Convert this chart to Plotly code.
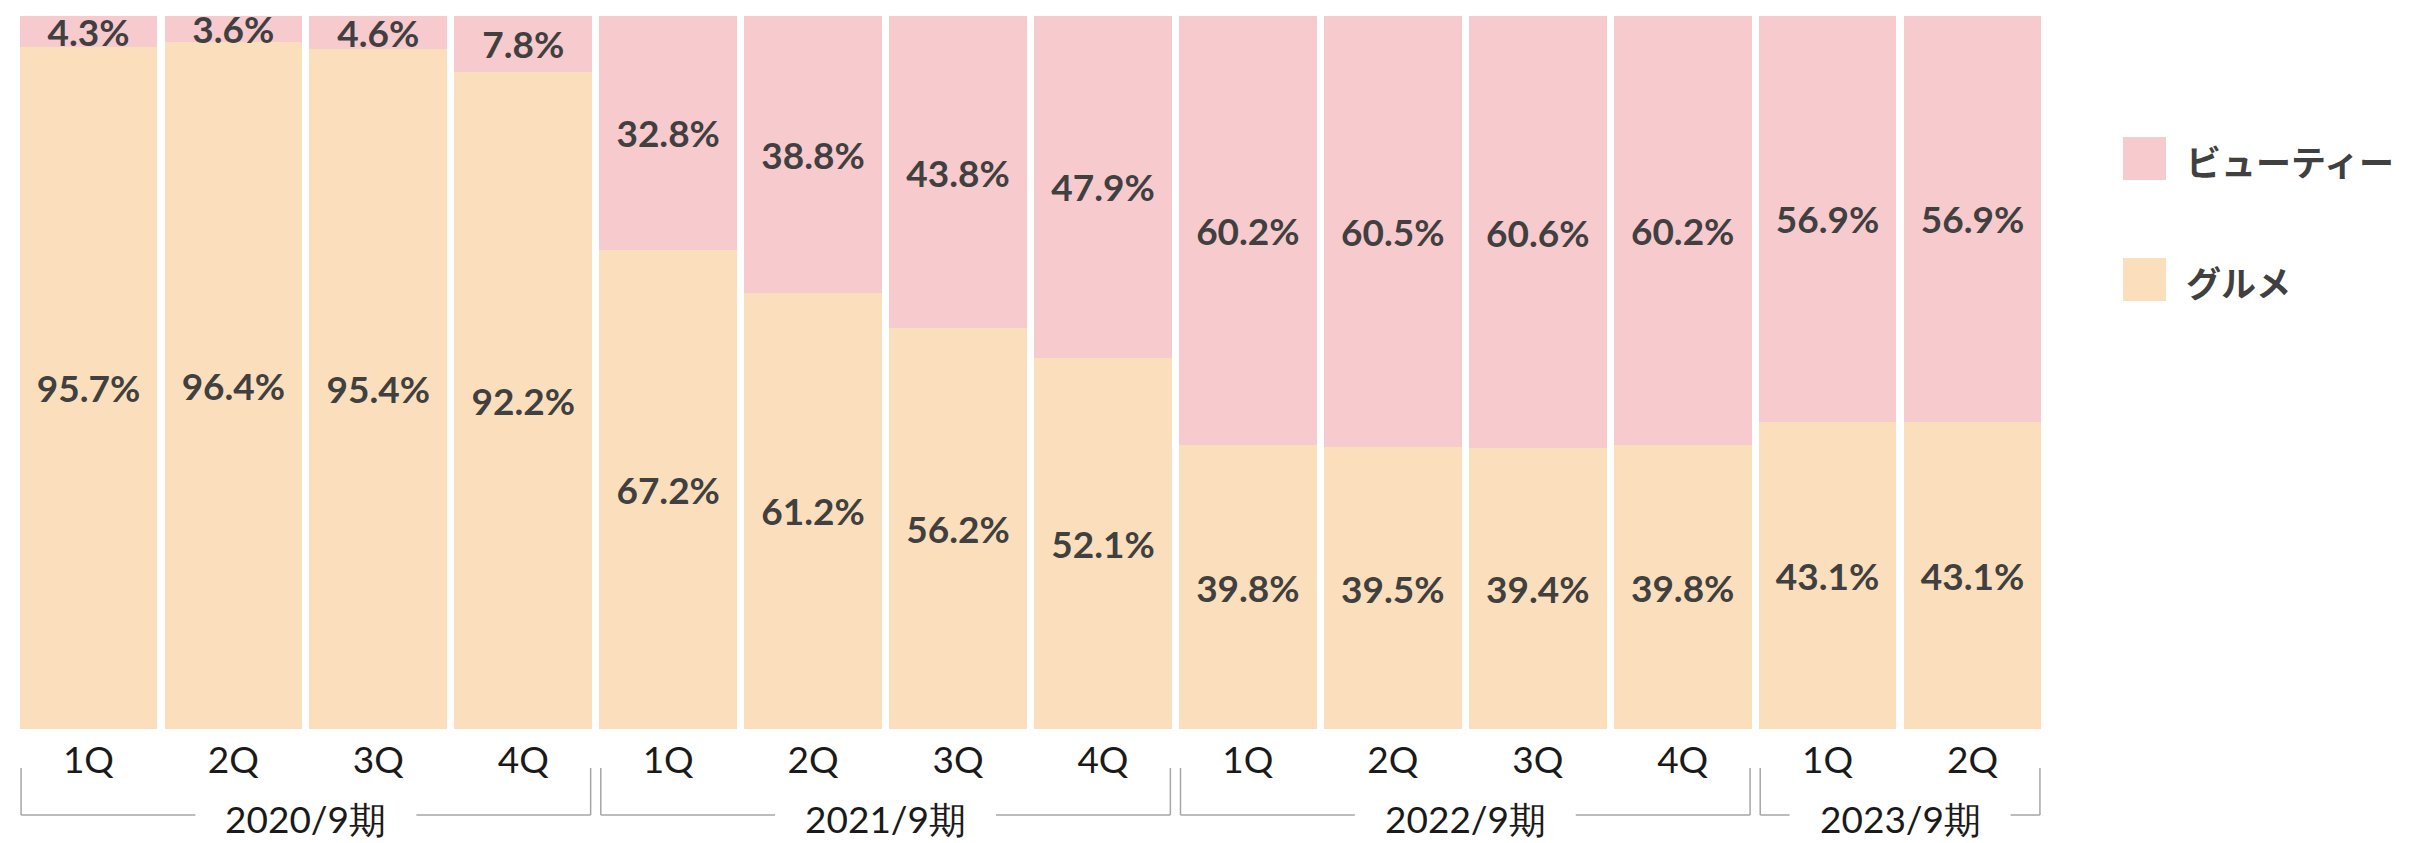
import plotly.graph_objects as go

quarters = ["1Q", "2Q", "3Q", "4Q", "1Q", "2Q", "3Q", "4Q", "1Q", "2Q", "3Q", "4Q", "1Q", "2Q"]
gourmet = [95.7, 96.4, 95.4, 92.2, 67.2, 61.2, 56.2, 52.1, 39.8, 39.5, 39.4, 39.8, 43.1, 43.1]
beauty = [4.3, 3.6, 4.6, 7.8, 32.8, 38.8, 43.8, 47.9, 60.2, 60.5, 60.6, 60.2, 56.9, 56.9]
groups = ["2020/9期", "2021/9期", "2022/9期", "2023/9期"]
group_sizes = [4, 4, 4, 2]

name_beauty = "ビューティー"
name_gourmet = "グルメ"
c_beauty = "#F7CACE"
c_gourmet = "#FBDFBC"
txt = "#404040"

W, H = 2420, 843
L, R, T, B = 16, 2045, 16, 729  # plot area in pixels
bargap = 0.05

x = list(range(len(quarters)))

fig = go.Figure()
for name, vals, col in [(name_gourmet, gourmet, c_gourmet), (name_beauty, beauty, c_beauty)]:
    fig.add_trace(go.Bar(
        x=x, y=vals, name=name, marker=dict(color=col, line=dict(width=0)),
        texttemplate="%{y:.1f}%", textposition="inside", insidetextanchor="middle",
        textangle=0,
        textfont=dict(family="Lato", size=37, color=txt, weight="bold"),
        cliponaxis=False, showlegend=False, hoverinfo="skip",
    ))

def px_x(p):
    return (p - L) / (R - L)

def px_y(p):
    return (B - p) / (B - T)

shapes = []
annotations = []
# group brackets
start = 0
half_gap = 0.7625
inset = 0.5 - bargap / 2 - 0.01
for g, n in zip(groups, group_sizes):
    x0 = start - inset
    x1 = start + n - 1 + inset
    c = (x0 + x1) / 2
    y_top = px_y(768)
    y_bot = px_y(815)
    line = dict(color="#A6A6A6", width=1.5)
    shapes.append(dict(type="line", xref="x", yref="paper", x0=x0, x1=x0, y0=y_top, y1=y_bot, line=line))
    shapes.append(dict(type="line", xref="x", yref="paper", x0=x1, x1=x1, y0=y_top, y1=y_bot, line=line))
    shapes.append(dict(type="line", xref="x", yref="paper", x0=x0, x1=c - half_gap, y0=y_bot, y1=y_bot, line=line))
    shapes.append(dict(type="line", xref="x", yref="paper", x0=c + half_gap, x1=x1, y0=y_bot, y1=y_bot, line=line))
    annotations.append(dict(x=c, xref="x", y=px_y(818), yref="paper", text=g, showarrow=False,
                            xanchor="center", yanchor="middle",
                            font=dict(family="Lato", size=37, color="#1A1A1A")))
    start += n

# legend (manual)
for label, col, ytop in [(name_beauty, c_beauty, 137), (name_gourmet, c_gourmet, 258)]:
    shapes.append(dict(type="rect", xref="paper", yref="paper",
                       x0=px_x(2123), x1=px_x(2166), y0=px_y(ytop), y1=px_y(ytop + 43),
                       fillcolor=col, line=dict(width=0)))
    annotations.append(dict(x=px_x(2184), xref="paper", y=px_y(ytop + 23), yref="paper",
                            text=label, showarrow=False, xanchor="left", yanchor="middle",
                            font=dict(family="Noto Sans CJK JP", size=35, color=txt, weight="bold")))

fig.update_layout(
    width=W, height=H,
    margin=dict(l=L, r=W - R, t=T, b=H - B, pad=0),
    barmode="stack", bargap=bargap,
    plot_bgcolor="white", paper_bgcolor="white",
    uniformtext=dict(minsize=37, mode="show"),
    shapes=shapes, annotations=annotations,
    showlegend=False,
    xaxis=dict(tickmode="array", tickvals=x, ticktext=quarters, range=[-0.5, len(x) - 0.5],
               showgrid=False, zeroline=False, showline=False, ticks="",
               tickfont=dict(family="Lato", size=37, color="#1A1A1A"), ticklabelstandoff=6),
    yaxis=dict(range=[0, 100], visible=False, showgrid=False, zeroline=False),
)

fig.write_html("out.html", config={"displayModeBar": False},
               post_script="document.body.style.margin='0';document.body.style.overflow='hidden';")
